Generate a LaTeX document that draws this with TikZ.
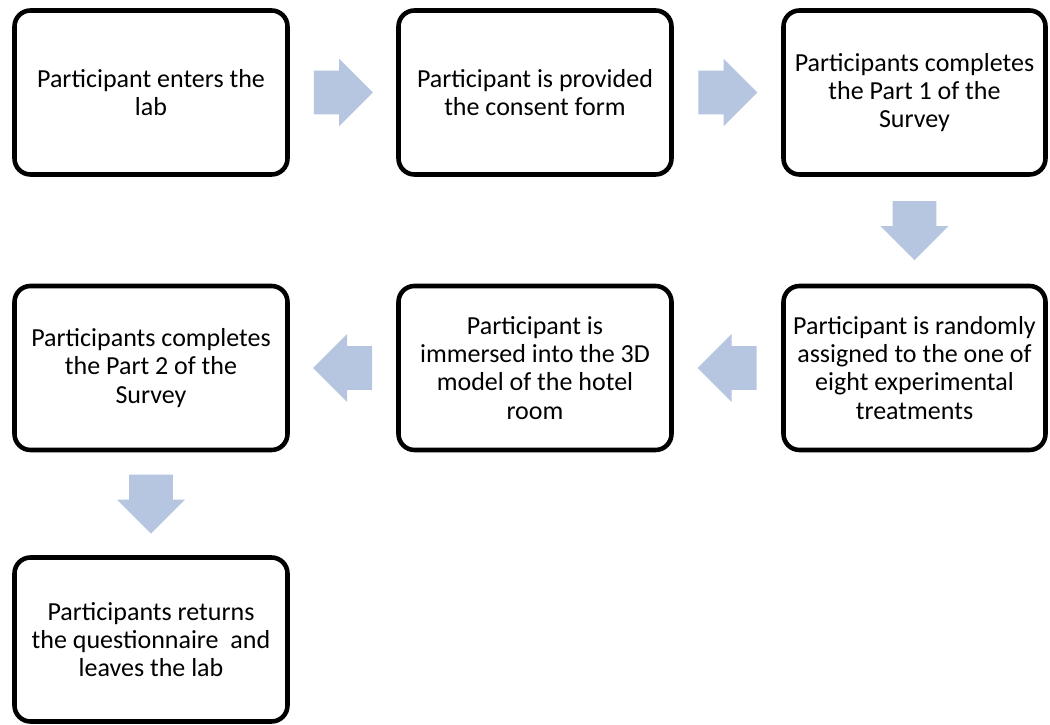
\documentclass[tikz,border=0pt]{standalone}
\usepackage{fontspec}
\setmainfont{Carlito}
\usetikzlibrary{shapes.arrows, calc, positioning}

\definecolor{arrowblue}{RGB}{182,197,224}

\begin{document}
\begin{tikzpicture}[
  font=\fontsize{14.8}{16}\selectfont,
  stepbox/.style={draw, line width=2.6pt, rounded corners=0.32cm, align=center,
    minimum width=5.46cm, minimum height=3.28cm, fill=white},
  blockarrow/.style={single arrow, fill=arrowblue, draw=none, inner xsep=0pt,
    inner ysep=0.43cm, minimum height=1.18cm, single arrow head extend=0.24cm,
    anchor=tail}
]
\useasboundingbox (0,0) rectangle (21,14.5);

% First row
\node[stepbox] (enter) at (3.02,12.65) {Participant enters the\\lab};
\node[stepbox] (consent) at (10.70,12.65) {Participant is provided\\the consent form};
\node[stepbox, minimum width=5.24cm] (part1) at (18.29,12.65) {Participants completes\\the Part 1 of the\\Survey};

% Second row (runs right to left)
\node[stepbox, minimum width=5.24cm] (assign) at (18.29,7.14) {Participant is randomly\\assigned to the one of\\eight experimental\\treatments};
\node[stepbox] (immerse) at (10.70,7.14) {Participant is\\immersed into the 3D\\model of the hotel\\room};
\node[stepbox] (part2) at (3.02,7.14) {Participants completes\\the Part 2 of the\\Survey};

% Last step
\node[stepbox] (leave) at (3.02,1.71) {Participants returns\\the questionnaire~ and\\leaves the lab};

% Block arrows between the steps (tail placed half a length before the gap middle)
\node[blockarrow] (a1) at ($($(enter.east)!0.5!(consent.west)$)+(-0.59,0)$) {};
\node[blockarrow] (a2) at ($($(consent.east)!0.5!(part1.west)$)+(-0.59,0)$) {};
\node[blockarrow, rotate=270] (a3) at ($($(part1.south)!0.5!(assign.north)$)+(0,0.59)$) {};
\node[blockarrow, rotate=180] (a4) at ($($(assign.west)!0.5!(immerse.east)$)+(0.59,0)$) {};
\node[blockarrow, rotate=180] (a5) at ($($(immerse.west)!0.5!(part2.east)$)+(0.59,0)$) {};
\node[blockarrow, rotate=270] (a6) at ($($(part2.south)!0.5!(leave.north)$)+(0,0.59)$) {};

\end{tikzpicture}
\end{document}
